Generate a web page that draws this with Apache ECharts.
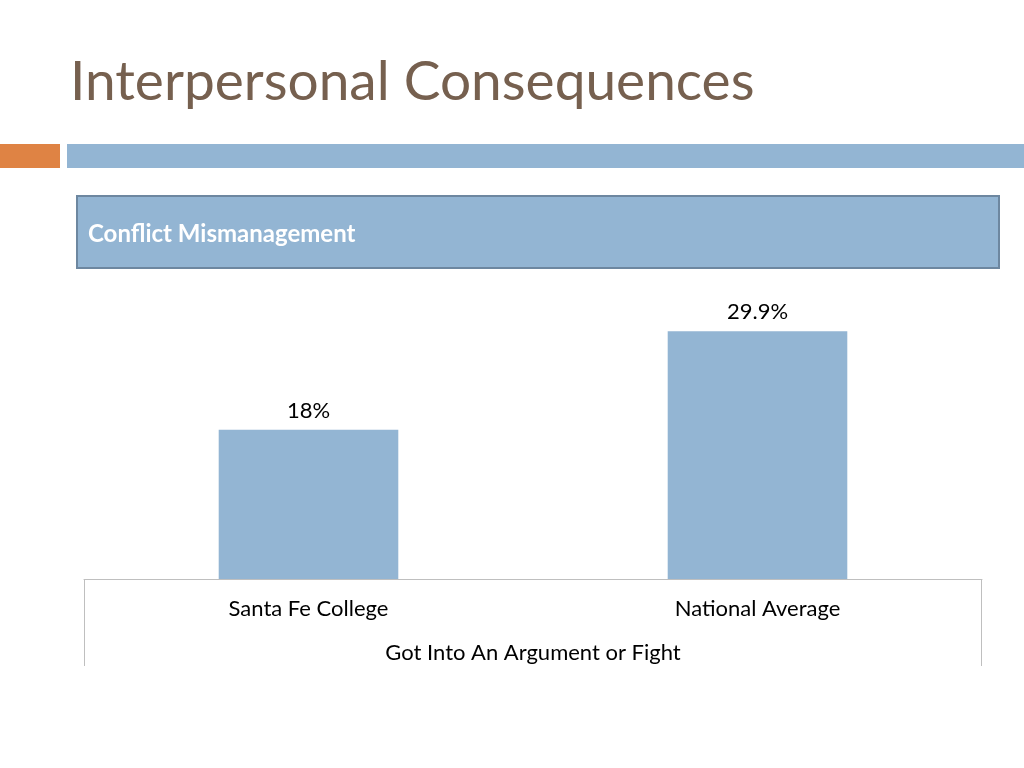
<!DOCTYPE html>
<html><head><meta charset="utf-8">
<script src="https://cdn.jsdelivr.net/npm/echarts@6/dist/echarts.min.js"></script>
<style>html,body{margin:0;padding:0;background:#fff}#c{width:1024px;height:768px}</style>
</head><body><div id="c"></div>
<script>
var categories = ['Santa Fe College', 'National Average'];
var values = [18, 29.9];
var valueLabels = ['18%', '29.9%'];
var axisTitle = 'Got Into An Argument or Fight';
var slideTitle = 'Interpersonal Consequences';
var boxTitle = 'Conflict Mismanagement';

var FONT = 'Lato, "DejaVu Sans", sans-serif';
var chart = echarts.init(document.getElementById('c'));
chart.setOption({
  animation: false,
  backgroundColor: '#ffffff',
  textStyle: { fontFamily: FONT },
  grid: { left: 84, right: 42, top: 289, bottom: 189, containLabel: false },
  xAxis: {
    type: 'category', data: categories,
    axisLine: { show: true, lineStyle: { color: '#bfbfbf', width: 1 } },
    axisTick: { show: false },
    axisLabel: { color: '#000', fontSize: 22, fontFamily: FONT, margin: 19 },
    name: axisTitle, nameLocation: 'middle', nameGap: 63,
    nameTextStyle: { color: '#000', fontSize: 22, fontFamily: FONT }
  },
  yAxis: { type: 'value', min: 0, max: 35, show: false, splitLine: { show: false } },
  series: [{
    type: 'bar', data: values, barWidth: '40%',
    itemStyle: { color: '#93b5d3' },
    label: { show: true, position: 'top', distance: 8, color: '#000', fontSize: 22, fontFamily: FONT,
      formatter: function (p) { return valueLabels[p.dataIndex]; } }
  }],
  graphic: [
    { type: 'text', left: 70, top: 55, style: { text: slideTitle, fill: '#76604f', font: '55px ' + FONT } },
    { type: 'rect', shape: { x: 0, y: 144, width: 60, height: 24 }, style: { fill: '#df8344' } },
    { type: 'rect', shape: { x: 67, y: 144, width: 957, height: 24 }, style: { fill: '#93b5d3' } },
    { type: 'rect', shape: { x: 77, y: 196, width: 922, height: 72 }, style: { fill: '#93b5d3', stroke: '#6d87a0', lineWidth: 2 } },
    { type: 'text', left: 88, top: 222, style: { text: boxTitle, fill: '#ffffff', font: 'bold 24px ' + FONT } },
    { type: 'line', shape: { x1: 84.5, y1: 579, x2: 84.5, y2: 666 }, style: { stroke: '#bfbfbf', lineWidth: 1 } },
    { type: 'line', shape: { x1: 981.5, y1: 579, x2: 981.5, y2: 666 }, style: { stroke: '#bfbfbf', lineWidth: 1 } }
  ]
});
</script></body></html>
